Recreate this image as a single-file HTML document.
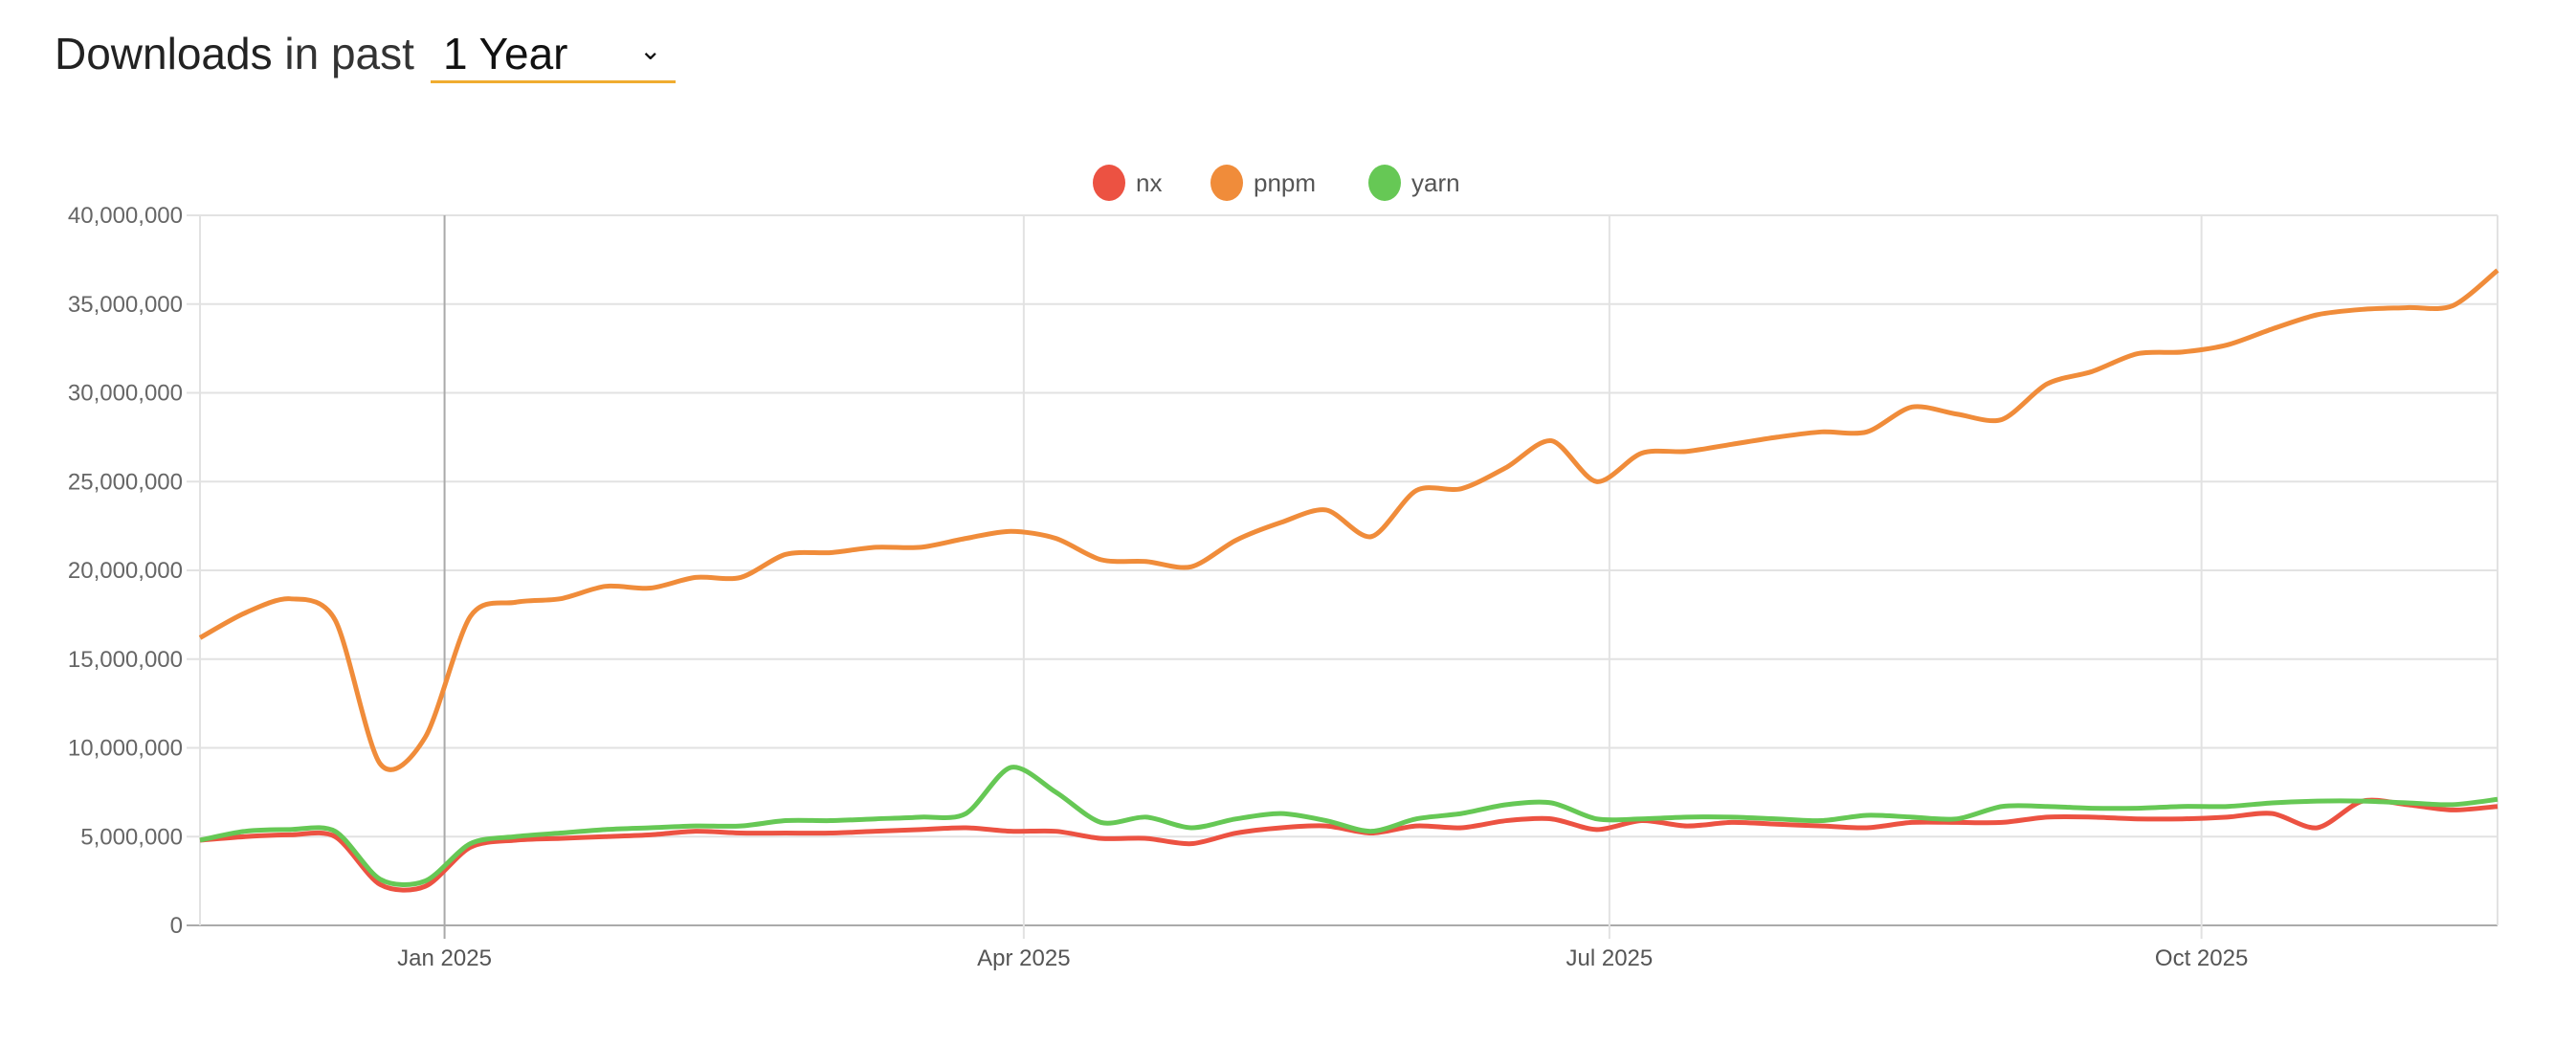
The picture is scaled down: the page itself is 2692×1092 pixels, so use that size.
<!DOCTYPE html>
<html><head><meta charset="utf-8">
<style>
body{margin:0;background:#fff;width:2692px;height:1092px;overflow:hidden;font-family:"Liberation Sans",Arial,sans-serif;}
#hdr{position:absolute;left:57px;top:29px;font-size:46px;color:#222;white-space:nowrap;}
#hdr .light{font-weight:300;color:#333}
#sel{position:absolute;left:450px;top:22px;width:256px;height:62px;border-bottom:3px solid #f0ac30;font-size:46px;color:#111;}
#sel span.t{position:absolute;left:13px;top:7px}
#sel span.c{position:absolute;left:218px;top:14px;font-size:28px}
svg{position:absolute;left:0;top:0}
</style></head><body>
<div id="hdr">Downloads <span class="light">in past</span></div>
<div id="sel"><span class="t">1 Year</span><span class="c">⌄</span></div>
<svg id="chart" width="2692" height="1092"></svg>
<script>
const dates=["2024-11-24","2024-12-01","2024-12-08","2024-12-15","2024-12-22","2024-12-29","2025-01-05","2025-01-12","2025-01-19","2025-01-26","2025-02-02","2025-02-09","2025-02-16","2025-02-23","2025-03-02","2025-03-09","2025-03-16","2025-03-23","2025-03-30","2025-04-06","2025-04-13","2025-04-20","2025-04-27","2025-05-04","2025-05-11","2025-05-18","2025-05-25","2025-06-01","2025-06-08","2025-06-15","2025-06-22","2025-06-29","2025-07-06","2025-07-13","2025-07-20","2025-07-27","2025-08-03","2025-08-10","2025-08-17","2025-08-24","2025-08-31","2025-09-07","2025-09-14","2025-09-21","2025-09-28","2025-10-05","2025-10-12","2025-10-19","2025-10-26","2025-11-02","2025-11-09","2025-11-16"];
const nxValues=[4.8,5.0,5.1,5.0,2.3,2.2,4.4,4.8,4.9,5.0,5.1,5.3,5.2,5.2,5.2,5.3,5.4,5.5,5.3,5.3,4.9,4.9,4.6,5.2,5.5,5.6,5.2,5.6,5.5,5.9,6.0,5.4,5.9,5.6,5.8,5.7,5.6,5.5,5.8,5.8,5.8,6.1,6.1,6.0,6.0,6.1,6.3,5.5,7.0,6.8,6.5,6.7];
const pnpmValues=[16.2,17.6,18.4,17.2,9.1,10.6,17.4,18.2,18.4,19.1,19.0,19.6,19.6,20.9,21.0,21.3,21.3,21.8,22.2,21.8,20.6,20.5,20.2,21.7,22.7,23.4,21.9,24.5,24.6,25.8,27.3,25.0,26.6,26.7,27.1,27.5,27.8,27.8,29.2,28.8,28.5,30.5,31.2,32.2,32.3,32.7,33.6,34.4,34.7,34.8,34.9,36.9];
const yarnValues=[4.8,5.3,5.4,5.3,2.6,2.5,4.6,5.0,5.2,5.4,5.5,5.6,5.6,5.9,5.9,6.0,6.1,6.3,8.9,7.5,5.8,6.1,5.5,6.0,6.3,5.9,5.3,6.0,6.3,6.8,6.9,6.0,6.0,6.1,6.1,6.0,5.9,6.2,6.1,6.0,6.7,6.7,6.6,6.6,6.7,6.7,6.9,7.0,7.0,6.9,6.8,7.1];
const yTicks=[0,5,10,15,20,25,30,35,40];
const xTickDates=["2025-01-01","2025-04-01","2025-07-01","2025-10-01"];
const xTickLabels=["Jan 2025","Apr 2025","Jul 2025","Oct 2025"];
const seriesNames=["nx","pnpm","yarn"];
const seriesColors=["#ec5242","#f08c3a","#66c855"];

const NS="http://www.w3.org/2000/svg";
const svg=document.getElementById('chart');
const L=209,R=2610,T=225,B=967;
const d0=Date.parse(dates[0]),d1=Date.parse(dates[dates.length-1]);
function xs(d){return L+(Date.parse(d)-d0)/(d1-d0)*(R-L);}
function ys(v){return B-v/40*(B-T);}
function mk(tag,attrs){const e=document.createElementNS(NS,tag);for(const k in attrs)e.setAttribute(k,attrs[k]);svg.appendChild(e);return e;}
function fmt(v){return (v*1000000).toLocaleString('en-US');}

yTicks.forEach(v=>{
  const y=ys(v);
  const g=mk('line',{x1:L-14,x2:R,y1:y,y2:y,stroke:v===0?'#aaa':'#e2e2e2','stroke-width':2});
  
  
  const t=mk('text',{x:L-18,y:y+8,'text-anchor':'end','font-size':24,fill:'#666'});
  t.textContent=fmt(v);
  
  
});
[L,R].forEach(x=>{
  const e=mk('line',{x1:x,x2:x,y1:T,y2:B,stroke:'#e2e2e2','stroke-width':2});
  
  
});
xTickDates.forEach((d,i)=>{
  const x=xs(d);
  const g=mk('line',{x1:x,x2:x,y1:T,y2:B+14,stroke:i===0?'#aaa':'#e2e2e2','stroke-width':2});
  
  
  const t=mk('text',{x:x,y:B+42,'text-anchor':'middle','font-size':24,fill:'#555'});
  t.textContent=xTickLabels[i];
  
  
});
function pathFor(vals){
  const p=vals.map((v,i)=>[xs(dates[i]),ys(v)]);
  let s='M'+p[0][0]+','+p[0][1];
  const k=1/7;
  for(let i=0;i<p.length-1;i++){
    const p0=p[Math.max(0,i-1)],p1=p[i],p2=p[i+1],p3=p[Math.min(p.length-1,i+2)];
    const c1x=p1[0]+(p2[0]-p0[0])*k,c1y=p1[1]+(p2[1]-p0[1])*k;
    const c2x=p2[0]-(p3[0]-p1[0])*k,c2y=p2[1]-(p3[1]-p1[1])*k;
    s+=` C${c1x},${c1y} ${c2x},${c2y} ${p2[0]},${p2[1]}`;
  }
  return s;
}
[nxValues,pnpmValues,yarnValues].forEach((vals,i)=>{
  const e=mk('path',{d:pathFor(vals),fill:'none',stroke:seriesColors[i],'stroke-width':5,'stroke-linejoin':'round'});
  
  
});
const legX=[1159,1282,1447];
seriesNames.forEach((n,i)=>{
  const c=mk('ellipse',{cx:legX[i],cy:191,rx:17,ry:19,fill:seriesColors[i]});
  
  
  const t=mk('text',{x:legX[i]+28,y:200,'font-size':26,fill:'#555'});
  t.textContent=n;
  
  
});
</script>
</body></html>
